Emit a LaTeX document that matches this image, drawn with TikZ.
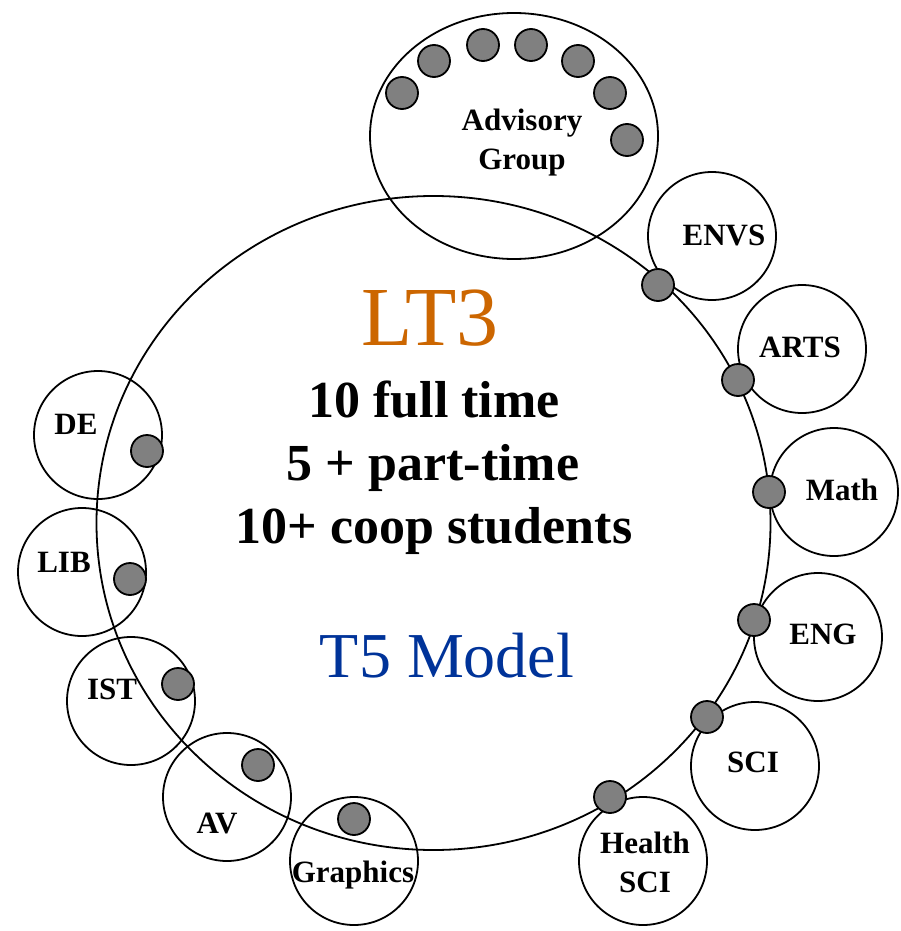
\documentclass[tikz,border=0pt]{standalone}
\usepackage{fontspec}
\setmainfont{Liberation Serif}
\definecolor{ltorange}{RGB}{204,102,0}
\definecolor{modelblue}{RGB}{0,51,153}
\definecolor{seatgray}{RGB}{128,128,128}
\tikzset{
    unit/.style={draw,circle,line width=1.8pt,minimum size=128pt,inner sep=0pt},
    seat/.style={draw,circle,line width=1.8pt,fill=seatgray,minimum size=32pt,inner sep=0pt},
    lbl/.style={font=\fontsize{31}{39}\selectfont\bfseries,align=center,inner sep=0pt},
    staff/.style={font=\fontsize{52}{63}\selectfont\bfseries,anchor=base,inner sep=0pt}
}
\begin{document}
\begin{tikzpicture}[x=1pt,y=-1pt]
            \useasboundingbox (0,0) rectangle (901,931);
            % LT3 ring and advisory group
            \draw[line width=1.8pt] (433.5,523) ellipse [x radius=337, y radius=327];
            \draw[line width=1.8pt] (514,136) ellipse [x radius=144, y radius=123];
            \foreach \sx/\sy [count=\i] in {402/93,434/61,483/45,531/45,578/61,610/93,627/140}
                \node[seat] (adv\i) at (\sx,\sy) {};
            \node[lbl] (advtext) at (522,143) {Advisory\\Group};
            % faculty units
            \node[unit] (envs) at (712,236) {};
            \node[unit] (arts) at (802,349) {};
            \node[unit] (math) at (834,492) {};
            \node[unit] (eng) at (818,637) {};
            \node[unit] (sci) at (755,766) {};
            \node[unit] (hsci) at (643,861) {};
            \node[unit] (graph) at (354,861) {};
            \node[unit] (av) at (227,797) {};
            \node[unit] (ist) at (131,701) {};
            \node[unit] (lib) at (82,572) {};
            \node[unit] (de) at (98,435) {};
            % liaisons on the ring
            \node[seat] (envsdot) at (658,285) {};
            \node[seat] (artsdot) at (738,380) {};
            \node[seat] (mathdot) at (769,492) {};
            \node[seat] (engdot) at (754,620) {};
            \node[seat] (scidot) at (707,717) {};
            \node[seat] (hscidot) at (610,797) {};
            \node[seat] (graphdot) at (354,819) {};
            \node[seat] (avdot) at (258,765) {};
            \node[seat] (istdot) at (178,684) {};
            \node[seat] (libdot) at (130,579) {};
            \node[seat] (dedot) at (147,451) {};
            % unit names
            \node[lbl] (envstext) at (724,235) {ENVS};
            \node[lbl] (artstext) at (800,347) {ARTS};
            \node[lbl] (mathtext) at (842,490) {Math};
            \node[lbl] (engtext) at (823,634) {ENG};
            \node[lbl] (scitext) at (753,762) {SCI};
            \node[lbl] (hscitext) at (645,862) {Health\\SCI};
            \node[lbl] (graphtext) at (353,875) {Graphics};
            \node[lbl] (avtext) at (217,823) {AV};
            \node[lbl] (isttext) at (112,689) {IST};
            \node[lbl] (libtext) at (64,562) {LIB};
            \node[lbl] (detext) at (76,424) {DE};
            % centre
            \node[anchor=base,inner sep=0pt,text=ltorange,font=\fontsize{84}{84}\selectfont] (lt3) at (430,345) {LT3};
            \node[staff] (full) at (434,417) {10 full time};
            \node[staff] (part) at (433,480) {5 + part-time};
            \node[staff] (coop) at (434,543) {10+ coop students};
            \node[anchor=base,inner sep=0pt,text=modelblue,font=\fontsize{64}{64}\selectfont] (t5) at (447,677) {T5 Model};
        \end{tikzpicture}
\end{document}
